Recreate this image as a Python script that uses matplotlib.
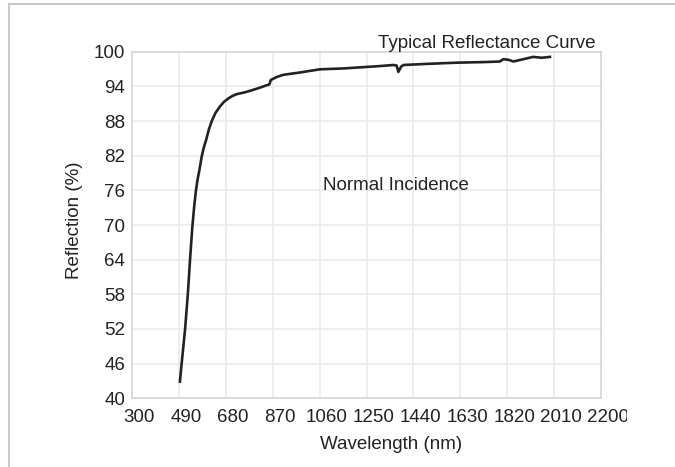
import matplotlib
matplotlib.use("Agg")
import matplotlib.pyplot as plt
from matplotlib.lines import Line2D
from matplotlib.transforms import ScaledTranslation, Bbox

plt.rcParams['font.family'] = ['Liberation Sans', 'DejaVu Sans']

# Data
wavelength = [494, 501, 515, 526, 535, 544, 552, 559, 566, 573, 582, 590, 600, 611,
              623, 638, 656, 672, 690, 705, 724, 760, 791, 820, 846, 855, 858, 862,
              885, 913, 980, 1061, 1156, 1300, 1359, 1372, 1379, 1390, 1400, 1500,
              1616, 1723, 1790, 1804, 1825, 1845, 1885, 1925, 1960, 1993]
reflection = [42.9, 46.0, 52.0, 58.0, 64.0, 69.5, 73.3, 76.0, 78.0, 79.5, 81.8, 83.3,
              84.7, 86.5, 88.0, 89.4, 90.5, 91.3, 91.9, 92.3, 92.65, 93.0, 93.4,
              93.8, 94.2, 94.3, 94.5, 95.1, 95.6, 96.0, 96.4, 96.95, 97.1, 97.5, 97.7,
              97.6, 96.5, 97.4, 97.7, 97.9, 98.1, 98.2, 98.3, 98.7, 98.6, 98.3, 98.7,
              99.1, 98.95, 99.1]
x_ticks = [300, 490, 680, 870, 1060, 1250, 1440, 1630, 1820, 2010, 2200]
y_ticks = [40, 46, 52, 58, 64, 70, 76, 82, 88, 94, 100]

FS = 13.5
fig = plt.figure(figsize=(6.75, 4.67), dpi=100)
ax = fig.add_axes([0.1956, 0.1471, 0.6948, 0.7422])

ax.plot(wavelength, reflection, color='#222222', linewidth=1.9, solid_joinstyle='round')

ax.set_xlim(300, 2200)
ax.set_ylim(40, 100)
ax.set_xticks(x_ticks)
ax.set_yticks(y_ticks)
ax.grid(True, color='#ebebeb', linewidth=1.2)
ax.set_axisbelow(True)
for s in ax.spines.values():
    s.set_color('#d6d6d6')
    s.set_linewidth(1.2)
ax.tick_params(axis='both', length=0, labelsize=FS, colors='#222222')
ax.tick_params(axis='x', pad=8)
ax.tick_params(axis='y', pad=5)

# shift x tick labels slightly right, as in the reference
off = ScaledTranslation(7 / 100, 0, fig.dpi_scale_trans)
clip = Bbox.from_extents(0, 0, 627, 467)
for lab in ax.get_xticklabels():
    lab.set_transform(lab.get_transform() + off)
    lab.set_clip_box(clip)
    lab.set_clip_on(True)

ax.set_xlabel('Wavelength (nm)', fontsize=FS, color='#222222')
ax.xaxis.set_label_coords(0.552, -0.108)
ax.set_ylabel('Reflection (%)', fontsize=FS, color='#222222')
ax.yaxis.set_label_coords(-0.104, 0.514)

ax.text(1369, 76.9, 'Normal Incidence', fontsize=FS, ha='center', va='center',
        color='#222222')
fig.text(486.5 / 675, 1 - 43 / 467, 'Typical Reflectance Curve', fontsize=FS,
         ha='center', va='center', color='#222222')

# image border (top and left)
fig.add_artist(Line2D([9 / 675, 1], [1 - 4 / 467, 1 - 4 / 467], color='#c8c8c8',
                      linewidth=1.5, transform=fig.transFigure))
fig.add_artist(Line2D([9 / 675, 9 / 675], [0, 1 - 4 / 467], color='#c8c8c8',
                      linewidth=1.5, transform=fig.transFigure))

fig.savefig('out.png', dpi=100)
